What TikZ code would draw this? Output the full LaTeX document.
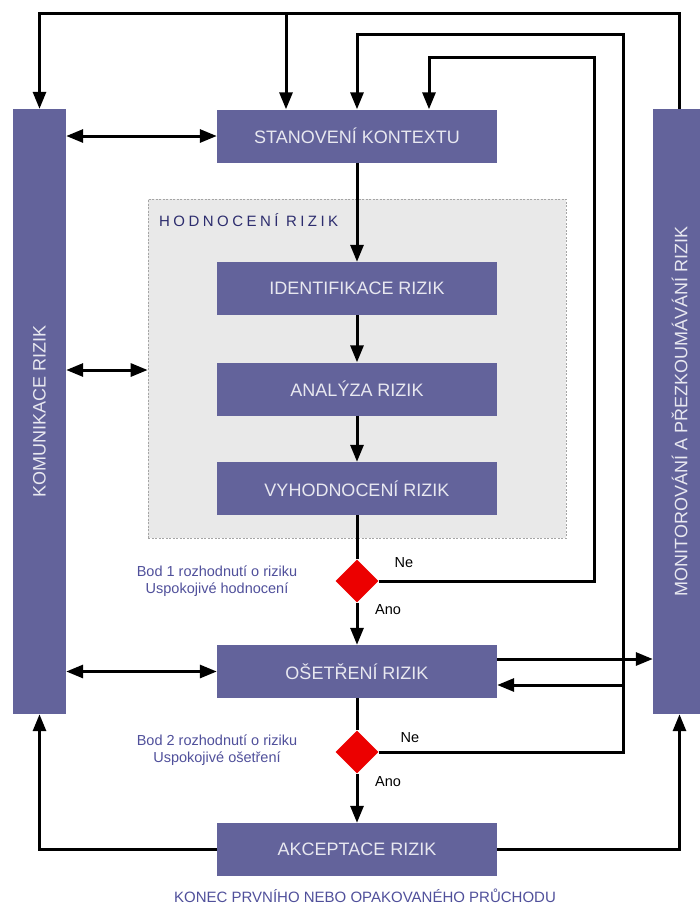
\documentclass[tikz,border=0pt]{standalone}
\usepackage{fontspec}
\setmainfont{Liberation Sans}
\usetikzlibrary{arrows.meta,shapes.geometric}

\definecolor{boxfill}{RGB}{99,99,155}
\definecolor{boxtext}{RGB}{232,232,240}
\definecolor{panelfill}{RGB}{233,233,233}
\definecolor{panelline}{RGB}{165,165,165}
\definecolor{navy}{RGB}{45,45,110}
\definecolor{notec}{RGB}{80,80,155}
\definecolor{diam}{RGB}{236,0,0}

\begin{document}
\begin{tikzpicture}[x=1pt,y=-1pt,
  stepbox/.style={fill=boxfill, text=boxtext, minimum width=280pt, minimum height=53pt,
    inner sep=0pt, font=\fontsize{18}{20}\selectfont},
  sidebar/.style={fill=boxfill, text=boxtext, minimum width=53pt, minimum height=605pt,
    inner sep=0pt, font=\fontsize{18}{20}\selectfont},
  panel/.style={fill=panelfill, draw=panelline, line width=0.7pt,
    dash pattern=on 2pt off 1.5pt, minimum width=418pt, minimum height=339pt, inner sep=0pt},
  decision/.style={diamond, fill=diam, minimum width=43pt, minimum height=43pt,
    inner sep=0pt, aspect=1},
  flow/.style={line width=3pt, -{Triangle[length=17pt,width=13pt]}},
  link/.style={line width=3pt},
  both/.style={line width=3pt,
    {Triangle[length=17pt,width=13pt]}-{Triangle[length=17pt,width=13pt]}},
  note/.style={text=notec, align=center, font=\fontsize{14.5}{17}\selectfont},
  yesno/.style={font=\fontsize{14.5}{16}\selectfont},
]
\clip (0,0) rectangle (700,906);
\fill[white] (0,0) rectangle (700,906);

% side bars
\node[sidebar] (kom) at (39.5,411.5) {\rotatebox{90}{KOMUNIKACE RIZIK}};
\node[sidebar] (mon) at (679.5,411.5) {\rotatebox{90}{MONITOROVÁNÍ A PŘEZKOUMÁVÁNÍ RIZIK}};

% risk assessment panel
\node[panel] (hod) at (357,368.5) {};
\node[anchor=base west, inner sep=0pt, text=navy,
  font=\fontsize{15}{17}\selectfont\addfontfeature{LetterSpace=23}] (hodlbl) at (159,226.5) {HODNOCENÍ RIZIK};

% process steps
\node[stepbox] (sk) at (357,136) {STANOVENÍ KONTEXTU};
\node[stepbox] (id) at (357,288.5) {IDENTIFIKACE RIZIK};
\node[stepbox] (an) at (357,389) {ANALÝZA RIZIK};
\node[stepbox] (vy) at (357,488.5) {VYHODNOCENÍ RIZIK};
\node[decision] (d1) at (357,581) {};
\node[stepbox] (os) at (357,671.5) {OŠETŘENÍ RIZIK};
\node[decision] (d2) at (357,752) {};
\node[stepbox] (ak) at (357,849.5) {AKCEPTACE RIZIK};

% labels
\node[note] (bod1) at (217,581) {Bod 1 rozhodnutí o riziku\\Uspokojivé hodnocení};
\node[note] (bod2) at (217,750) {Bod 2 rozhodnutí o riziku\\Uspokojivé ošetření};
\node[yesno] (ne1) at (404,563) {Ne};
\node[yesno] (ano1) at (388,610) {Ano};
\node[yesno] (ne2) at (410,738) {Ne};
\node[yesno] (ano2) at (388,782) {Ano};
\node[text=notec, font=\fontsize{15}{17}\selectfont] (konec) at (365,896)
  {KONEC PRVNÍHO NEBO OPAKOVANÉHO PRŮCHODU};

% helper points
\coordinate (top1) at (0,13);
\coordinate (top2) at (623,34);
\coordinate (top3) at (594,57);
\coordinate (skL) at ([xshift=-71pt]sk.north);
\coordinate (skR) at ([xshift=72pt]sk.north);
\coordinate (ret) at (623,685);
\coordinate (out) at (497,659);
\coordinate (mid) at (0,370);

% main flow
\draw[flow] (sk.south) -- (id.north);
\draw[flow] (id.south) -- (an.north);
\draw[flow] (an.south) -- (vy.north);
\draw[link] (vy.south) -- (d1.north);
\draw[flow] (d1.south) -- (os.north);
\draw[link] (os.south) -- (d2.north);
\draw[flow] (d2.south) -- (ak.north);

% feedback loops
\draw[flow] (mon.north) |- (kom.north |- top1) -- (kom.north);
\draw[flow] (skL |- top1) -- (skL);
\draw[flow] (d2.east) -| (top2) -| (sk.north);
\draw[flow] (d1.east) -| (top3) -| (skR);
\draw[flow] (ret) -- (ret -| os.east);
\draw[flow] (out) -- (out -| mon.west);

% communication links
\draw[both] (kom.east |- sk.west) -- (sk.west);
\draw[both] (kom.east |- mid) -- (hod.west |- mid);
\draw[both] (kom.east |- os.west) -- (os.west);

% acceptance outputs
\draw[flow] (ak.west) -| (kom.south);
\draw[flow] (ak.east) -| (mon.south);
\end{tikzpicture}
\end{document}
